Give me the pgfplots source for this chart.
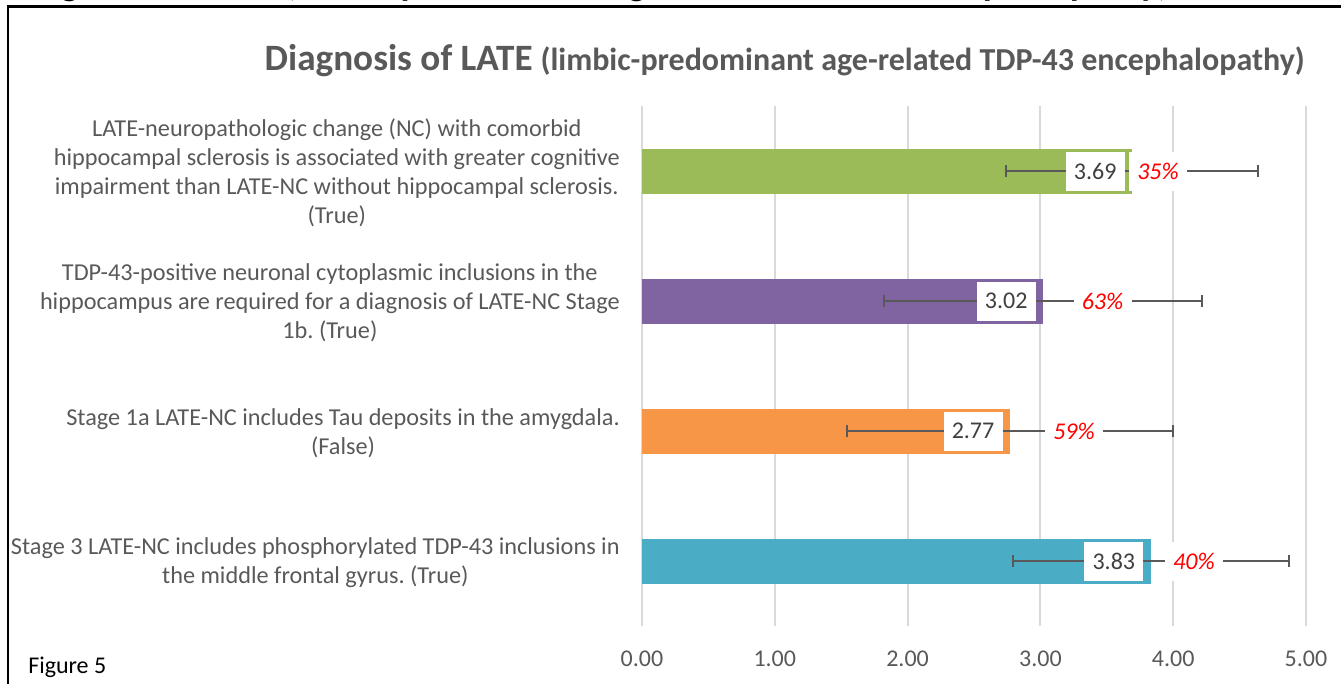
\documentclass[border=0pt]{standalone}
\usepackage{pgfplots}
\pgfplotsset{compat=1.18}
\usepackage{fontspec}
\setmainfont{Carlito}
\frenchspacing
\definecolor{cgreen}{HTML}{9BBB59}
\definecolor{cpurple}{HTML}{8064A2}
\definecolor{corange}{HTML}{F79646}
\definecolor{cteal}{HTML}{4BACC6}
\definecolor{cgrid}{HTML}{D9D9D9}
\definecolor{ctext}{HTML}{595959}
\definecolor{clabel}{HTML}{404040}
\definecolor{cerr}{HTML}{595959}
\begin{document}
\frenchspacing
\begin{tikzpicture}
\useasboundingbox (0,0) rectangle (1005.75pt,-512.25pt);
\clip (0,0) rectangle (1005.75pt,-512.25pt);
% cut-off heading at the top
\node[anchor=base west, inner sep=0pt, text=black, font=\fontsize{27.75}{33}\selectfont\bfseries] at (7.5pt,3.5pt) {Diagnosis of LATE (limbic-predominant age-related TDP-43 encephalopathy)};
% frame
\draw[black, line width=2pt] (6pt,-5pt) rectangle (1020pt,-530pt);
% title
\node[anchor=base east, inner sep=0pt, text=ctext] at (978.75pt,-52.5pt)
  {{\fontsize{27.9}{33}\selectfont\bfseries Diagnosis of LATE}\hspace{6pt}{\fontsize{24}{29}\selectfont\bfseries (limbic-predominant age-related TDP-43 encephalopathy)}};
% figure label
\node[anchor=base west, inner sep=0pt, text=black, font=\fontsize{18}{21.75}\selectfont] at (21pt,-504.75pt) {Figure 5};
\begin{axis}[
  at={(481.5pt,-469.5pt)}, anchor=south west,
  width=498pt, height=390pt, scale only axis,
  xmin=0, xmax=5, ymin=-0.5, ymax=3.5,
  xtick={0,1,2,3,4,5},
  ytick={0,1,2,3},
  yticklabels={
    {Stage 3 LATE-NC includes phosphorylated TDP-43 inclusions in\\the middle frontal gyrus.\ (True)},
    {Stage 1a LATE-NC includes Tau deposits in the amygdala.\\(False)},
    {TDP-43-positive neuronal cytoplasmic inclusions in the\\hippocampus are required for a diagnosis of LATE-NC Stage\\1b.\ (True)},
    {LATE-neuropathologic change (NC) with comorbid\\hippocampal sclerosis is associated with greater cognitive\\impairment than LATE-NC without hippocampal sclerosis.\\(True)}
  },
  axis line style={draw=none},
  major tick length=0pt,
  xmajorgrids,
  grid style={cgrid, line width=1.5pt},
  xticklabel={\pgfmathprintnumber[fixed,fixed zerofill,precision=2]{\tick}},
  /pgf/number format/assume math mode=true,
  xticklabel style={inner sep=0pt, yshift=-18.5pt, text=ctext, font=\fontsize{18}{21.75}\selectfont},
  yticklabel style={inner sep=0pt, xshift=-16.5pt, yshift=-1.5pt, align=center, text=ctext, font=\fontsize{18.2}{21.75}\selectfont},
  every axis plot/.append style={
    error bars/error bar style={cerr, line width=1.5pt},
    error bars/error mark options={cerr, line width=1.5pt, mark size=4.5pt, rotate=90},
  },
  value label/.style={
    xbar, bar shift=0pt, bar width=33.75pt, draw=none,
    error bars/.cd, x dir=both, x explicit, /pgfplots/.cd,
    point meta=x,
    nodes near coords={\pgfmathprintnumber[fixed,fixed zerofill,precision=2]{\pgfplotspointmeta}},
    every node near coord/.style={anchor=east, xshift=-5.25pt, fill=white, text=clabel,
      inner xsep=6.2pt, inner ysep=0pt, minimum height=29.25pt,
      font=\fontsize{18}{21.75}\selectfont},
  },
]
\addplot[value label, fill=cteal] coordinates {(3.83,0) +- (1.04,0)};
\addplot[value label, fill=corange] coordinates {(2.77,1) +- (1.23,0)};
\addplot[value label, fill=cpurple] coordinates {(3.02,2) +- (1.20,0)};
\addplot[value label, fill=cgreen] coordinates {(3.69,3) +- (0.95,0)};
\addplot[only marks, mark=none, point meta=explicit symbolic,
  nodes near coords,
  every node near coord/.style={anchor=center, fill=white, text=red,
    minimum width=43.5pt, minimum height=29.25pt, inner sep=0pt,
    font=\fontsize{18}{21.75}\selectfont\itshape}]
  coordinates {(4.157,0) [40\%] (3.253,1) [59\%] (3.468,2) [63\%] (3.886,3) [35\%]};
\end{axis}
\end{tikzpicture}
\end{document}
